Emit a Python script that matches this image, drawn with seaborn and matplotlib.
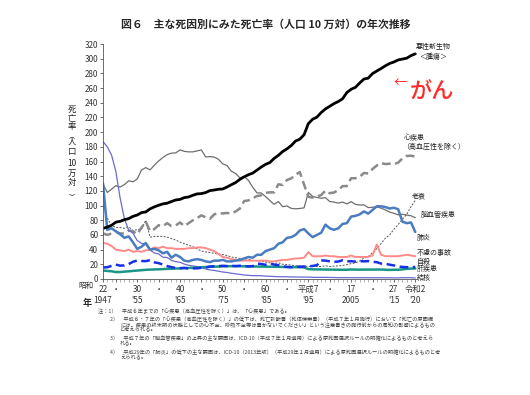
import pandas as pd
import matplotlib
matplotlib.use("Agg")
import matplotlib.pyplot as plt
import seaborn as sns

# years 1947 (昭和22) .. 2020 (令和2)
years = list(range(1947, 2021))

cancer = [69.0, 70.6, 73.1, 77.4, 78.5, 80.8, 82.2, 85.3, 87.1, 90.4,
          91.3, 95.5, 98.2, 100.4, 102.3, 103.2, 105.5, 107.6, 108.4, 110.8,
          111.7, 114.0, 115.9, 116.3, 117.7, 120.4, 121.2, 122.2, 122.6, 125.3,
          128.4, 131.3, 135.7, 139.1, 142.0, 144.2, 148.3, 152.5, 156.1, 158.5,
          164.2, 168.4, 173.6, 177.2, 181.7, 187.8, 190.4, 196.4, 211.6, 217.5,
          220.4, 226.7, 231.6, 235.2, 238.8, 241.7, 245.4, 253.9, 258.3, 261.0,
          266.9, 272.3, 273.5, 279.7, 283.2, 286.6, 290.3, 293.5, 295.5, 298.3,
          299.5, 300.7, 304.2, 306.6]
heart = [62.2, 60.0, 62.0, 64.2, 62.0, 62.0, 66.0, 65.0, 60.9, 70.0,
         78.0, 65.0, 68.0, 73.2, 72.0, 76.0, 72.0, 73.0, 77.0, 72.0,
         76.0, 80.0, 83.0, 86.7, 84.0, 82.0, 88.0, 90.0, 89.2, 90.0,
         89.0, 92.0, 96.0, 106.2, 107.0, 110.0, 113.0, 114.0, 117.3, 118.0,
         118.0, 129.0, 128.0, 134.8, 137.0, 142.0, 145.6, 128.6, 112.0, 110.8,
         112.2, 114.3, 120.4, 116.8, 117.8, 121.0, 126.5, 126.5, 137.2, 137.2,
         139.2, 144.4, 143.7, 149.8, 154.5, 157.9, 156.5, 157.0, 156.5, 158.4,
         164.3, 167.6, 167.9, 166.6]
cerebro = [129.4, 117.9, 122.3, 127.1, 125.2, 128.5, 133.7, 132.4, 136.1, 148.4,
           151.7, 148.6, 154.9, 160.7, 165.4, 169.4, 171.4, 171.7, 175.8, 173.8,
           173.1, 173.1, 174.4, 175.8, 166.1, 166.7, 166.0, 163.0, 156.7, 154.5,
           146.7, 143.7, 137.7, 139.5, 134.3, 125.0, 117.2, 117.2, 112.2, 106.9,
           101.7, 105.5, 98.5, 99.4, 96.2, 95.6, 96.0, 96.9, 117.9, 112.6,
           111.0, 110.0, 110.8, 105.5, 104.7, 103.4, 104.7, 102.3, 105.3, 101.7,
           100.8, 100.9, 97.2, 97.7, 98.2, 96.5, 94.1, 91.1, 89.4, 87.4,
           88.2, 87.1, 86.1, 83.5]
pneumonia = [130, 67, 69, 65, 61, 56, 58, 50, 41, 44,
             49, 40, 41, 39, 35, 37, 29, 33, 30, 25,
             24, 26, 27, 26, 24, 23, 25, 25, 26, 24,
             24, 25, 26, 28, 30, 29, 33, 33, 38, 40,
             42, 48, 50, 56, 57, 60, 66, 68, 62, 57,
             60, 63, 74, 69, 67, 69, 75, 76, 85, 86,
             88, 92, 89, 94, 99, 99, 98, 96, 97, 95,
             78, 76, 77, 64]
senility = [100.6, 83, 73, 70.2, 70, 69, 71, 66, 67.1, 68,
            80, 57, 58, 58.0, 58, 57, 55, 53, 50.3, 48,
            46, 44, 41, 38.1, 37, 36, 35, 34, 33.3, 32,
            30, 29, 28, 27.6, 27, 25, 25, 24, 23.0, 22,
            21, 22, 20, 19.7, 19, 18, 18, 17.5, 17.3, 17,
            17, 17, 18, 16.9, 17.5, 18, 18.5, 19.5, 20.9, 22,
            24.5, 28.5, 30.5, 35.9, 41.4, 48.2, 55.5, 60.1, 67.7, 74.2,
            81.3, 88.2, 98.5, 107.3]
accident = [49, 48, 45, 40, 39, 38, 40, 37, 38, 37,
            39, 40, 43, 42, 44, 42, 42, 41, 41, 41,
            42, 42, 43, 43, 42, 40, 38, 34, 30, 29,
            27, 26, 25, 25, 25, 25, 25, 25, 25, 24,
            24, 25, 26, 26, 27, 28, 28, 29, 36.5, 31,
            31, 31, 32, 31, 31, 30, 30, 30, 32, 30,
            30, 30, 30, 32, 47, 33, 31, 31, 31, 31,
            32, 33, 32, 31]
suicide = [15.7, 16.0, 17.9, 19.6, 18.2, 18.5, 20.3, 23.4, 25.2, 24.5,
           24.3, 25.7, 22.7, 21.6, 19.6, 17.6, 16.1, 15.1, 14.7, 15.2,
           14.2, 14.5, 14.5, 15.3, 15.6, 17.0, 17.4, 17.5, 18.0, 17.6,
           17.9, 17.6, 18.0, 17.7, 17.1, 17.5, 21.0, 20.4, 19.4, 21.2,
           19.6, 18.7, 17.3, 16.4, 16.1, 16.9, 16.6, 16.9, 17.2, 17.8,
           18.8, 25.4, 25.0, 24.1, 23.3, 23.8, 25.5, 24.0, 24.2, 23.7,
           24.4, 24.0, 24.4, 23.4, 22.9, 21.0, 20.7, 19.5, 18.5, 17.0,
           16.4, 16.1, 15.7, 16.4]
liver = [11.5, 11.0, 10.5, 9.5, 9.5, 10.0, 10.5, 11.0, 11.5, 12.0,
         12.5, 12.8, 13.0, 13.2, 13.5, 13.8, 14.0, 14.2, 14.5, 14.8,
         15.0, 15.3, 15.6, 16.0, 16.3, 16.5, 16.8, 17.0, 17.2, 17.4,
         17.5, 17.5, 17.4, 17.3, 17.2, 17.1, 17.0, 16.9, 16.8, 16.7,
         16.6, 16.5, 16.4, 16.3, 16.2, 16.1, 16.0, 15.8, 13.5, 13.2,
         13.0, 13.0, 12.9, 12.8, 12.7, 12.6, 12.6, 12.6, 13.0, 12.8,
         12.7, 12.8, 12.8, 12.8, 12.9, 12.9, 12.6, 12.4, 12.6, 12.6,
         13.1, 13.8, 14.2, 14.3]
tb = [187.2, 179.9, 168.8, 146.4, 110.3, 82.2, 66.5, 62.4, 52.3, 48.6,
      46.9, 39.4, 35.5, 34.2, 29.6, 29.3, 25.4, 23.6, 22.8, 20.3,
      18.7, 17.8, 17.0, 15.4, 13.6, 12.3, 11.7, 10.6, 9.5, 8.9,
      7.8, 7.1, 6.3, 5.5, 5.0, 4.6, 4.5, 4.5, 3.9, 3.7,
      3.4, 3.1, 3.1, 3.0, 2.8, 2.8, 2.6, 2.6, 2.6, 2.3,
      2.2, 2.2, 2.3, 2.1, 2.0, 1.8, 1.9, 1.8, 1.8, 1.8,
      1.7, 1.8, 1.7, 1.7, 1.7, 1.7, 1.7, 1.7, 1.5, 1.5,
      1.8, 1.8, 1.7, 1.4]

tick_years = [1947, 1950, 1955, 1960, 1965, 1970, 1975, 1980, 1985,
              1990, 1995, 2000, 2005, 2010, 2015, 2020]
tick_labels = ["22\n1947", "・\n", "30\n'55", "・\n", "40\n'65", "・\n",
               "50\n'75", "・\n", "60\n'85", "・\n", "平成7\n'95", "・\n",
               "17\n2005", "・\n", "27\n'15", "令和2\n'20"]

df = pd.DataFrame({"year": years, "悪性新生物": cancer, "心疾患": heart,
                   "脳血管疾患": cerebro, "肺炎": pneumonia, "老衰": senility,
                   "不慮の事故": accident, "自殺": suicide, "肝疾患": liver,
                   "結核": tb})

# name, color, width, linestyle
styles = [
    ("脳血管疾患", "#6e6e6e", 0.9, "-"),
    ("老衰", "#555555", 0.7, (0, (2, 1.5))),
    ("心疾患", "#8a8a8a", 1.8, (0, (3.5, 1.8))),
    ("結核", "#6a6ad0", 0.9, "-"),
    ("不慮の事故", "#ff8a8a", 1.4, "-"),
    ("肝疾患", "#1a9688", 1.8, "-"),
    ("自殺", "#1530e8", 1.8, (0, (3.5, 1.8))),
    ("肺炎", "#4a7cc0", 1.8, "-"),
    ("悪性新生物", "#000000", 2.0, "-"),
]

sns.set_style("ticks")
plt.rcParams['font.family'] = ['Noto Sans CJK JP', 'DejaVu Sans']

fig = plt.figure(figsize=(5.3, 3.95), dpi=100)
W, H = 530, 395
ax = fig.add_axes([103 / W, 1 - 279 / H, (417 - 103) / W, (279 - 44) / H])

for name, col, lw, ls in styles:
    sns.lineplot(data=df, x="year", y=name, ax=ax, color=col,
                 linewidth=lw, linestyle=ls)

ax.set_xlim(1947, 2020.4)
ax.set_ylim(0, 320)
ax.set_yticks(range(0, 321, 20))
ax.set_xticks(tick_years)
ax.set_xticklabels(tick_labels)
ax.set_xticks(years, minor=True)
ax.set_xlabel("")
ax.set_ylabel("")
ax.tick_params(axis="y", labelsize=5.8, length=2, width=0.5, pad=1.5, colors="#333333")
ax.tick_params(axis="x", which="major", labelsize=6, length=2.5, width=0.5, pad=2, colors="#333333")
ax.tick_params(axis="x", which="minor", length=1.8, width=0.4, color="#777777")
for s in ["top", "right"]:
    ax.spines[s].set_visible(False)
for s in ["left", "bottom"]:
    ax.spines[s].set_linewidth(0.6)
    ax.spines[s].set_color("#555555")

# series labels on the right
lab = dict(fontsize=5, color="#222222", clip_on=False, va="center")
ax.text(2024.1, 309, "悪性新生物\n＜腫瘍＞", ha="center", linespacing=1.3, **lab)
ax.text(2017.4, 192, "心疾患", ha="left", **lab)
ax.text(2017.0, 180, "（高血圧性を除く）", ha="left", **lab)
ax.text(2019.1, 113, "老衰", ha="left", **lab)
ax.text(2021.2, 87, "脳血管疾患", ha="left", **lab)
ax.text(2020.3, 56, "肺炎", ha="left", **lab)
ax.text(2020.3, 35, "不慮の事故", ha="left", **lab)
ax.text(2020.3, 23, "自殺", ha="left", **lab)
ax.text(2020.3, 13.5, "肝疾患", ha="left", **lab)
ax.text(2020.3, 1.5, "結核", ha="left", **lab)

# red annotation
ax.text(2015.0, 267, "←", fontsize=10, color="#ff2a2a", ha="left", va="center", clip_on=False)
ax.text(2018.7, 256, "がん", fontsize=16, color="#ff2a2a", ha="left", va="center",
        fontweight="medium", clip_on=False)

# title
fig.text(266 / W, 1 - 25 / H, "図６　主な死因別にみた死亡率（人口 10 万対）の年次推移",
         ha="center", va="center", fontsize=7.8, fontweight="bold")

# vertical y label
ylab = [("死", 109), ("亡", 118), ("率", 127), ("︵", 135), ("人", 142),
        ("口", 151), ("10", 163), ("万", 173), ("対", 183), ("︶", 196)]
for ch, yy in ylab:
    fs = 4.5 if ch in "︵︶" else 6
    fig.text(72 / W, 1 - yy / H, ch, ha="center", va="center", fontsize=fs, color="#222222")

fig.text(86 / W, 1 - 286 / H, "昭和", ha="center", va="center", fontsize=5.5, color="#333333")
fig.text(87 / W, 1 - 303 / H, "年", ha="center", va="center", fontsize=6.5, fontweight="bold")

# notes
notes = [
    (98, 311, "注：1）　平成６年までの「心疾患（高血圧性を除く）」は、「心疾患」である。"),
    (110, 319, "2）　平成６・７年の「心疾患（高血圧性を除く）」の低下は、死亡診断書（死体検案書）（平成７年１月施行）において「死亡の原因欄"),
    (120, 324.5, "には、疾患の終末期の状態としての心不全、呼吸不全等は書かないでください」という注意書きの施行前からの周知の影響によるもの"),
    (120, 330, "と考えられる。"),
    (110, 338, "3）　平成７年の「脳血管疾患」の上昇の主な要因は、ICD-10（平成７年１月適用）による原死因選択ルールの明確化によるものと考えら"),
    (120, 344, "れる。"),
    (110, 352, "4）　平成29年の「肺炎」の低下の主な要因は、ICD-10（2013年版）（平成29年１月適用）による原死因選択ルールの明確化によるものと考"),
    (120, 358, "えられる。"),
]
for xx, yy, t in notes:
    fig.text(xx / W, 1 - yy / H, t, ha="left", va="center", fontsize=3.75, color="#444444")

fig.savefig("out.png", dpi=100)
